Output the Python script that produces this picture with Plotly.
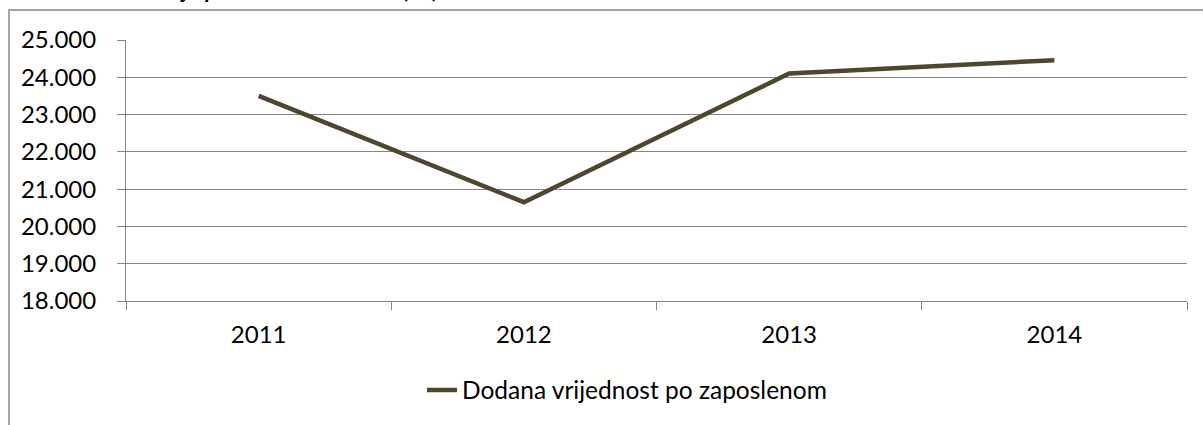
import plotly.graph_objects as go

# Dodana vrijednost po zaposlenom (kn), 2011-2014
godine = ["2011", "2012", "2013", "2014"]
dodana_vrijednost = [23500, 20650, 24100, 24460]
y_tickovi = [18000, 19000, 20000, 21000, 22000, 23000, 24000, 25000]

W, H = 1203, 425
L, R, T, B = 126, 16, 40, 124
pw, ph = W - L - R, H - T - B

FONT = "Lato"
FS = 24
GRID = "#868686"


def px_x(x):
    return (x - L) / pw


def px_y(y):
    return (H - B - y) / ph


fig = go.Figure()
fig.add_trace(go.Scatter(
    x=godine, y=dodana_vrijednost, mode="lines",
    name="Dodana vrijednost po zaposlenom",
    line=dict(color="#4d4730", width=4.5),
))

fig.update_layout(
    width=W, height=H,
    margin=dict(l=L, r=R, t=T, b=B, autoexpand=False),
    paper_bgcolor="white", plot_bgcolor="white",
    separators=",.",
    font=dict(family=FONT, size=FS, color="black"),
    showlegend=True,
    legend=dict(
        xref="container", yref="container",
        x=422 / W, y=35 / H, xanchor="left", yanchor="middle",
        font=dict(family=FONT, size=24.5, color="black"),
        bgcolor="rgba(0,0,0,0)",
    ),
    xaxis=dict(
        type="category", range=[-0.5, 3.5],
        tickson="boundaries", ticks="outside", ticklen=8, tickcolor=GRID,
        showgrid=False, showline=True, linecolor=GRID, linewidth=1,
        tickfont=dict(family=FONT, size=FS, color="black"),
        ticklabelstandoff=12,
    ),
    yaxis=dict(
        range=[18000, 25000], tickvals=y_tickovi, tickformat=",d",
        ticks="outside", ticklen=8, tickcolor=GRID,
        showgrid=True, gridcolor=GRID, gridwidth=1,
        showline=True, linecolor=GRID, linewidth=1,
        zeroline=False,
        tickfont=dict(family=FONT, size=FS, color="black"),
        ticklabelstandoff=16,
    ),
)

# outer chart frame
fig.add_shape(
    type="rect", xref="paper", yref="paper",
    x0=px_x(9), x1=px_x(1230), y0=px_y(10), y1=px_y(440),
    line=dict(color=GRID, width=1.5), fillcolor="rgba(0,0,0,0)", layer="below",
)

# chart title (upper part falls outside the page)
fig.add_annotation(
    xref="paper", yref="paper", x=px_x(0), y=px_y(-10),
    xanchor="left", yanchor="middle", showarrow=False,
    text="<b>Grafikon 5. Kretanje produktivnosti rada (kn)</b>",
    font=dict(family=FONT, size=22, color="black"),
)

fig.write_html("out.html")
